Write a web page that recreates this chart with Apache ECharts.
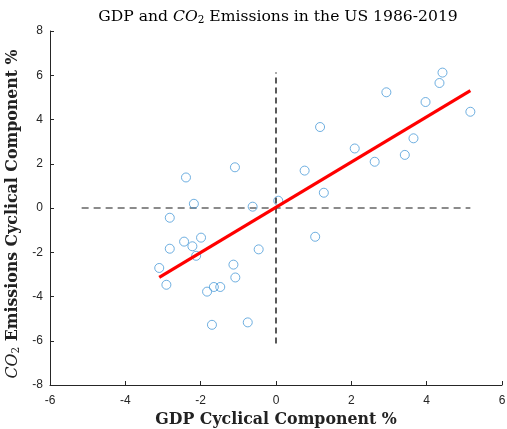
<!DOCTYPE html>
<html>
<head>
<meta charset="utf-8">
<script src="https://cdn.jsdelivr.net/npm/echarts@6/dist/echarts.min.js"></script>
<style>html,body{margin:0;padding:0;background:#fff;}#c{width:507px;height:429px;}</style>
</head>
<body>
<div id="c"></div>
<script>
var gdpX = [-2.39,-1.09,-2.18,-2.82,-2.44,-1.99,-2.22,-2.12,-2.82,-3.10,-2.91,-1.13,-1.08,-1.83,-1.65,-1.48,-1.70,
            -0.62,0.06,0.76,1.17,1.27,2.09,2.62,2.93,3.42,3.65,3.97,4.34,4.42,5.16,-0.75,-0.46,1.04];
var co2Y = [1.38,1.84,0.19,-0.44,-1.52,-1.34,-1.73,-2.16,-1.84,-2.71,-3.47,-2.56,-3.14,-3.78,-3.57,-3.57,-5.28,
            0.06,0.33,1.69,3.66,0.69,2.69,2.09,5.23,2.40,3.15,4.79,5.65,6.12,4.35,-5.17,-1.87,-1.30];
var fitX = [-3.10, 5.16];
var fitY = [-3.14, 5.30];
var hLineX = [-5.16, 5.16];
var vLineY = [-6.12, 6.12];
var xTicks = [-6,-4,-2,0,2,4,6];
var yTicks = [-8,-6,-4,-2,0,2,4,6,8];

var pts = gdpX.map(function(x,i){return [x, co2Y[i]];});
var fit = fitX.map(function(x,i){return [x, fitY[i]];});
var hl = hLineX.map(function(x){return [x, 0];});
var vl = vLineY.map(function(y){return [0, y];});

var SERIF = '"DejaVu Serif",serif';
var chart = echarts.init(document.getElementById('c'), null, {renderer:'canvas'});
chart.setOption({
  animation:false,
  backgroundColor:'#fff',
  title:{
    text:'{n|GDP and }{i|CO}{s|2}{n| Emissions in the US 1986-2019}',
    left:273, top:3, textAlign:'center',
    textStyle:{
      fontWeight:'normal',
      rich:{
        n:{fontFamily:SERIF, fontWeight:'normal', fontSize:15.6, color:'#000'},
        i:{fontFamily:SERIF, fontWeight:'normal', fontStyle:'italic', fontSize:15.6, color:'#000'},
        s:{fontFamily:SERIF, fontWeight:'normal', fontSize:10.5, color:'#000', padding:[7,0,0,0]}
      }
    }
  },
  grid:{left:50, right:5, top:31, bottom:44, containLabel:false, outerBoundsMode:'none'},
  xAxis:{
    type:'value', min:-6, max:6, interval:2,
    name:'GDP Cyclical Component %', nameLocation:'middle', nameGap:16,
    nameTextStyle:{fontFamily:SERIF, fontWeight:'bold', fontSize:15.8, color:'#222'},
    axisLine:{show:true, onZero:false, lineStyle:{color:'#262626', width:1}},
    axisTick:{show:true, inside:true, length:4, lineStyle:{color:'#262626'}},
    axisLabel:{fontFamily:'"Liberation Sans",Arial,sans-serif', fontSize:12, color:'#262626', margin:10},
    splitLine:{show:false}
  },
  yAxis:{
    type:'value', min:-8, max:8, interval:2,
    name:'{i|CO}{s|2}{b| Emissions Cyclical Component %}', nameLocation:'middle', nameGap:20, nameRotate:90,
    nameTextStyle:{
      padding:[0,12,0,0],
      rich:{
        b:{fontFamily:SERIF, fontWeight:'bold', fontSize:15.8, color:'#222'},
        i:{fontFamily:SERIF, fontStyle:'italic', fontSize:15.8, color:'#222'},
        s:{fontFamily:SERIF, fontSize:10.5, color:'#222', padding:[7,0,0,0]}
      }
    },
    axisLine:{show:true, onZero:false, lineStyle:{color:'#262626', width:1}},
    axisTick:{show:true, inside:true, length:4, lineStyle:{color:'#262626'}},
    axisLabel:{fontFamily:'"Liberation Sans",Arial,sans-serif', fontSize:12, color:'#262626', margin:7},
    splitLine:{show:false}
  },
  series:[
    {type:'line', data:hl, symbol:'none', silent:true,
     lineStyle:{color:'#666', width:1.5, type:[7,5]}, z:1},
    {type:'line', data:vl, symbol:'none', silent:true,
     lineStyle:{color:'#000', width:1.3, type:[6,4]}, z:1},
    {type:'scatter', data:pts, symbol:'circle', symbolSize:9,
     itemStyle:{color:'rgba(0,0,0,0)', borderColor:'#4b9bd8', borderWidth:1}, z:2},
    {type:'line', data:fit, symbol:'none', silent:true,
     lineStyle:{color:'#ff0000', width:3.2}, z:3}
  ]
});
</script>
</body>
</html>
